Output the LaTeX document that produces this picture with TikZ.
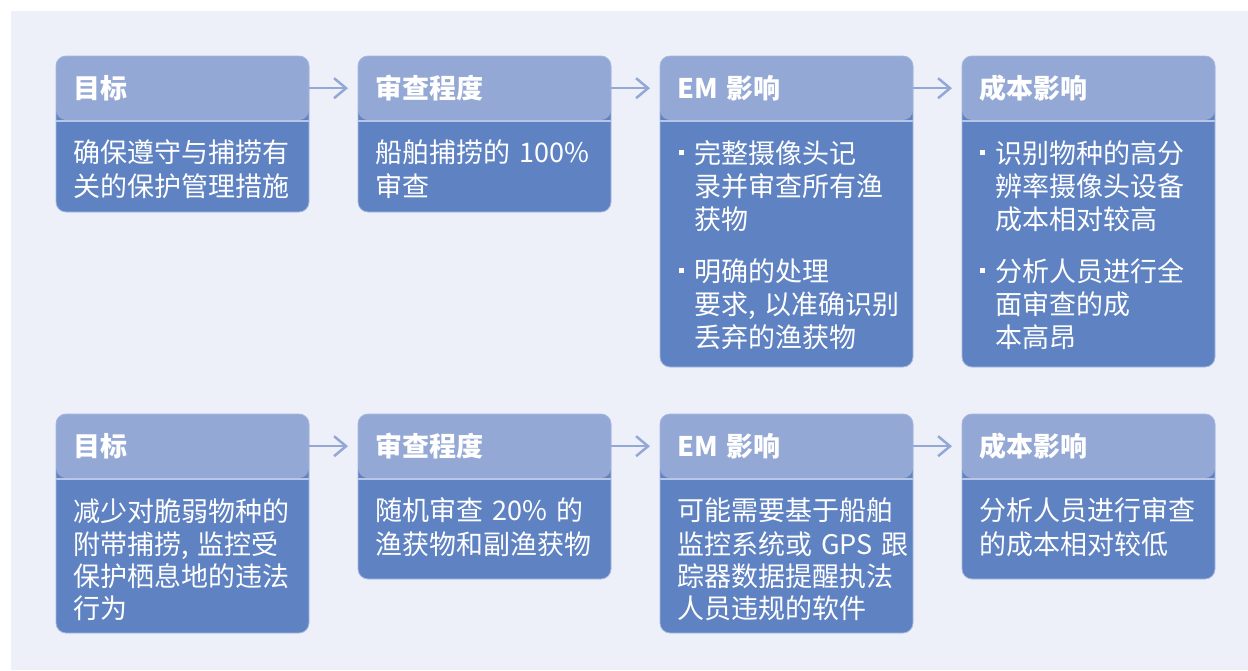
\documentclass[tikz,border=0pt]{standalone}
\usepackage{fontspec}
\setmainfont{Noto Sans CJK SC}
\usetikzlibrary{positioning, arrows.meta}
\definecolor{bgfill}{HTML}{EDF0F9}
\definecolor{headfill}{HTML}{94A8D5}
\definecolor{bodyfill}{HTML}{5F82C2}
\definecolor{sepline}{HTML}{B8C6E8}
\definecolor{edgeline}{HTML}{A6B8E0}
\newcommand{\bul}{\leavevmode\strut\llap{\raisebox{8pt}{\rule{5pt}{5pt}}\hspace{10pt}}}
\newcommand{\narrowsp}{\fontdimen2\font=2pt\fontdimen3\font=0pt\fontdimen4\font=0pt\relax}

\begin{document}
\begin{tikzpicture}[
    x=1pt, y=-1pt,
    stagebox/.style={rounded corners=10pt, fill=bodyfill, draw=edgeline, line width=0.8pt,
      anchor=north west, minimum width=253pt, inner sep=0pt, outer sep=0pt,
      path picture={
        \fill[headfill] (path picture bounding box.north west) rectangle ([yshift=-64pt]path picture bounding box.north east);
        \draw[sepline, line width=2pt] ([yshift=-65pt]path picture bounding box.north west) -- ([yshift=-65pt]path picture bounding box.north east);}},
    headtext/.style={anchor=north west, text width=219pt, inner xsep=17pt, inner ysep=0pt, minimum height=64pt,
      align=left, text=white, font=\fontsize{27}{32}\selectfont\bfseries\narrowsp},
    bodytext/.style={anchor=north west, text width=260pt, inner xsep=17pt, inner ysep=0pt,
      align=left, text=white, font=\fontsize{27}{32}\selectfont\narrowsp},
    bullettext/.style={bodytext, font=\fontsize{27}{33}\selectfont\narrowsp},
    flow/.style={-{Straight Barb[length=12pt, width=20pt]}, line width=2.5pt, headfill, shorten >=10pt}
]
    \useasboundingbox (0,0) rectangle (1248,670);
    \fill[bgfill] (11,11) rectangle (1248,670);

    % Row 1: full review
    \node[stagebox, minimum height=156pt] (b1) at (56,56) {};
    \node[stagebox, minimum height=156pt, right=49pt of b1.north east, anchor=north west] (b2) {};
    \node[stagebox, minimum height=311pt, right=49pt of b2.north east, anchor=north west] (b3) {};
    \node[stagebox, minimum height=311pt, right=49pt of b3.north east, anchor=north west] (b4) {};

    \node[headtext] (h1) at (b1.north west) {目标};
    \node[headtext] (h2) at (b2.north west) {审查程度};
    \node[headtext] (h3) at (b3.north west) {EM 影响};
    \node[headtext] (h4) at (b4.north west) {成本影响};

    \node[bodytext] (t1) at ([yshift=-19.5pt]h1.south west) {\strut 确保遵守与捕捞有\\关的保护管理措施};
    \node[bodytext] (t2) at ([yshift=-19.5pt]h2.south west) {\strut 船舶捕捞的 100\%\\审查};
    \node[bullettext] (t3) at ([xshift=17pt, yshift=-19.5pt]h3.south west)
        {\bul 完整摄像头记\\录并审查所有渔\\获物\\[19pt]\bul 明确的处理\\要求, 以准确识别\\丢弃的渔获物};
    \node[bullettext] (t4) at ([xshift=16pt, yshift=-19.5pt]h4.south west)
        {\bul 识别物种的高分\\辨率摄像头设备\\成本相对较高\\[19pt]\bul 分析人员进行全\\面审查的成\\本高昂};

    % Row 2: random review
    \node[stagebox, minimum height=219pt] (b5) at (56,414) {};
    \node[stagebox, minimum height=165pt, right=49pt of b5.north east, anchor=north west] (b6) {};
    \node[stagebox, minimum height=219pt, right=49pt of b6.north east, anchor=north west] (b7) {};
    \node[stagebox, minimum height=165pt, right=49pt of b7.north east, anchor=north west] (b8) {};

    \node[headtext] (h5) at (b5.north west) {目标};
    \node[headtext] (h6) at (b6.north west) {审查程度};
    \node[headtext] (h7) at (b7.north west) {EM 影响};
    \node[headtext] (h8) at (b8.north west) {成本影响};

    \node[bodytext] (t5) at ([yshift=-19.5pt]h5.south west) {\strut 减少对脆弱物种的\\附带捕捞, 监控受\\保护栖息地的违法\\行为};
    \node[bodytext] (t6) at ([yshift=-19.5pt]h6.south west) {\strut 随机审查 20\% 的\\渔获物和副渔获物};
    \node[bodytext] (t7) at ([yshift=-19.5pt]h7.south west) {\strut 可能需要基于船舶\\监控系统或 GPS 跟\\踪器数据提醒执法\\人员违规的软件};
    \node[bodytext] (t8) at ([yshift=-19.5pt]h8.south west) {\strut 分析人员进行审查\\的成本相对较低};

    % Arrows
    \draw[flow] (h1) -- (h2);
    \draw[flow] (h2) -- (h3);
    \draw[flow] (h3) -- (h4);
    \draw[flow] (h5) -- (h6);
    \draw[flow] (h6) -- (h7);
    \draw[flow] (h7) -- (h8);
\end{tikzpicture}
\end{document}
